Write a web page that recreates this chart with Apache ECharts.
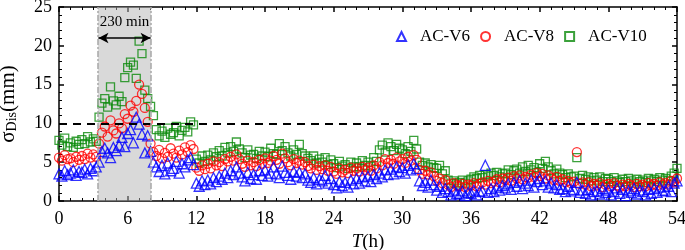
<!DOCTYPE html>
<html>
<head>
<meta charset="utf-8">
<script src="https://cdn.jsdelivr.net/npm/echarts@6/dist/echarts.min.js"></script>
<style>
html, body { margin: 0; padding: 0; background: #fff; }
#main { width: 685px; height: 250px; }
</style>
</head>
<body>
<div id="main"></div>
<script>
// sampled every 0.25 h, 0 .. 54 h
var step = 0.25;

var v6 = [
	3.5, 3.2, 3.9, 3.4, 3.6, 4.0, 3.3, 3.8, 3.7, 4.1, 3.5, 4.2, 3.9, 4.4, 5.0, 6.4,
	6.8, 6.2, 5.6, 6.9, 6.5, 7.2, 8.2, 7.0, 8.7, 9.2, 7.5, 10.8, 9.9, 8.6, 6.2, 8.4,
	6.4, 5.0, 4.4, 3.8, 4.6, 3.5, 4.9, 3.9, 4.2, 5.1, 3.6, 4.8, 4.4, 5.3, 5.6, 4.7,
	2.3, 1.9, 2.6, 2.1, 2.7, 2.2, 3.0, 2.5, 3.2, 2.8, 3.6, 3.0, 3.9, 3.4, 4.4, 3.6,
	3.1, 2.6, 3.7, 2.9, 3.4, 2.8, 3.9, 3.3, 4.0, 3.2, 3.6, 4.4, 3.5, 3.0, 4.5, 3.7,
	3.3, 2.8, 3.8, 3.2, 3.7, 3.0, 3.5, 2.7, 2.4, 3.0, 2.2, 2.8, 2.6, 3.3, 2.3, 2.9,
	2.1, 1.7, 2.5, 2.0, 2.4, 1.8, 2.7, 2.2, 2.9, 2.3, 3.1, 2.6, 3.2, 2.5, 3.4, 2.9,
	3.6, 3.1, 4.0, 3.4, 4.1, 3.5, 4.4, 3.8, 4.3, 3.6, 4.6, 4.0, 4.8, 4.2, 2.6, 2.0,
	2.4, 1.8, 2.7, 2.1, 1.4, 1.9, 1.1, 1.6, 1.2, 0.8, 1.4, 1.0, 0.9, 1.3, 0.7, 1.1,
	1.0, 1.4, 0.8, 1.2, 1.3, 4.6, 1.1, 1.6, 1.2, 1.8, 1.4, 2.0, 1.7, 2.2, 1.5, 2.4,
	1.9, 2.6, 1.6, 2.3, 2.0, 2.7, 1.8, 2.5, 2.9, 2.1, 2.6, 1.8, 2.3, 1.7, 2.1, 1.5,
	1.6, 1.2, 1.9, 1.3, 1.5, 2.4, 1.1, 1.4, 1.0, 1.5, 0.8, 1.2, 1.3, 0.9, 1.6, 1.1,
	1.4, 0.8, 1.2, 1.7, 1.0, 1.5, 0.7, 1.3, 1.1, 1.6, 0.9, 1.4, 1.2, 0.8, 1.5, 1.0,
	1.6, 1.1, 1.8, 1.3, 1.4, 1.9, 1.2, 2.3, 2.6
];
var v8 = [
	5.6, 5.2, 5.9, 5.4, 5.5, 5.0, 5.7, 5.3, 5.8, 5.4, 6.1, 5.6, 6.0, 5.7, 7.4, 8.8,
	9.6, 8.3, 10.4, 9.1, 8.7, 10.0, 9.4, 11.2, 10.6, 12.3, 11.5, 12.9, 15.0, 13.8, 12.0, 10.2,
	7.4, 6.3, 5.8, 6.6, 5.5, 6.2, 5.7, 6.8, 6.1, 5.6, 6.5, 6.0, 6.9, 6.3, 7.2, 6.7,
	4.3, 3.9, 4.6, 4.1, 4.8, 4.2, 5.1, 4.6, 5.0, 4.5, 5.4, 5.1, 5.7, 5.2, 6.0, 5.4,
	4.8, 4.4, 5.2, 4.6, 5.0, 4.5, 5.3, 4.8, 5.5, 4.9, 5.2, 5.8, 5.3, 4.8, 6.1, 5.5,
	5.0, 4.6, 5.4, 4.9, 5.2, 4.7, 5.0, 4.5, 4.2, 4.7, 4.0, 4.5, 4.1, 4.6, 3.9, 4.4,
	3.8, 3.5, 4.2, 3.7, 4.0, 3.6, 4.3, 3.9, 4.2, 3.8, 4.4, 4.0, 4.3, 3.9, 4.6, 4.2,
	5.0, 4.6, 5.4, 4.9, 5.3, 4.8, 5.6, 5.1, 5.4, 4.9, 5.7, 5.2, 5.9, 5.3, 4.0, 3.5,
	3.9, 3.4, 3.7, 3.2, 2.6, 2.9, 2.3, 2.7, 2.1, 1.8, 2.3, 2.0, 1.9, 2.2, 1.8, 2.1,
	2.0, 2.3, 1.9, 2.2, 2.4, 2.1, 2.6, 2.3, 2.5, 2.8, 2.4, 2.9, 2.7, 3.0, 2.6, 3.2,
	2.9, 3.3, 2.8, 3.1, 3.0, 3.4, 3.1, 3.6, 3.2, 3.5, 2.9, 3.3, 3.0, 2.7, 3.1, 2.6,
	2.8, 2.4, 2.6, 2.3, 2.5, 6.3, 2.2, 2.4, 2.1, 2.4, 1.9, 2.2, 2.0, 2.3, 1.8, 2.1,
	2.2, 1.9, 2.3, 2.0, 1.8, 2.1, 1.9, 2.2, 2.0, 1.8, 2.2, 1.9, 2.1, 1.9, 2.3, 2.0,
	2.2, 2.0, 2.4, 2.1, 2.3, 2.1, 2.6, 2.4, 2.9
];
var v10 = [
	7.8, 7.2, 8.1, 7.0, 7.5, 6.9, 7.7, 7.3, 7.9, 7.4, 8.3, 7.6, 8.0, 7.7, 10.8, 12.6,
	13.2, 12.1, 14.7, 12.9, 12.4, 13.5, 12.8, 15.9, 17.2, 17.9, 17.5, 15.8, 20.6, 19.0, 14.3, 13.2,
	12.2, 11.0, 9.2, 8.4, 9.0, 8.2, 9.4, 8.6, 8.8, 9.6, 8.4, 9.1, 9.5, 8.9, 10.2, 9.8,
	5.4, 4.9, 5.8, 5.1, 5.9, 5.3, 6.2, 5.7, 6.5, 5.8, 6.9, 6.2, 7.0, 6.4, 7.6, 6.7,
	6.2, 5.6, 6.6, 5.9, 6.0, 5.5, 6.4, 5.8, 6.3, 5.7, 6.8, 6.1, 6.0, 7.4, 6.5, 7.0,
	6.2, 5.8, 6.6, 6.0, 7.3, 6.1, 5.8, 5.5, 5.2, 5.8, 4.9, 5.4, 5.0, 5.6, 4.7, 5.3,
	4.8, 4.3, 5.1, 4.5, 4.7, 4.2, 5.0, 4.4, 4.9, 4.4, 5.2, 4.6, 5.0, 4.5, 5.6, 5.1,
	6.6, 7.2, 6.3, 7.5, 7.0, 6.5, 7.3, 6.8, 6.6, 6.1, 7.0, 6.4, 7.8, 6.7, 5.0, 4.6,
	4.9, 4.4, 4.7, 4.3, 4.2, 4.6, 3.5, 3.9, 2.7, 2.3, 2.6, 2.2, 2.4, 2.7, 2.3, 2.6,
	2.8, 3.1, 2.9, 3.3, 3.0, 3.4, 3.2, 3.6, 3.3, 3.7, 3.1, 3.5, 3.6, 4.0, 3.4, 3.9,
	4.1, 3.6, 4.4, 3.8, 4.6, 4.0, 4.3, 3.7, 4.8, 4.2, 5.1, 4.4, 3.9, 3.5, 4.1, 3.6,
	3.4, 3.0, 3.5, 3.1, 3.2, 5.6, 2.9, 3.3, 2.8, 3.1, 2.6, 3.0, 2.7, 3.1, 2.5, 2.9,
	2.8, 2.5, 3.0, 2.6, 2.4, 2.8, 2.5, 2.9, 2.6, 2.3, 2.8, 2.5, 2.7, 2.4, 2.9, 2.6,
	2.8, 2.5, 3.0, 2.7, 2.9, 2.6, 3.2, 3.6, 4.2
];
var xTicks = [0, 6, 12, 18, 24, 30, 36, 42, 48, 54];
var yTicks = [0, 5, 10, 15, 20, 25];
var shade = [3.4, 8.05]; // the 230 min window
var limit = 10;

var serif = 'Liberation Serif';

function toPairs(vals) {
	var out = [];
	for (var i = 0; i < vals.length; i++) {
		out.push([i * step, vals[i]]);
	}
	return out;
}

function axisX(pos) {
	return {
		type: 'value',
		position: pos,
		min: xTicks[0],
		max: xTicks[xTicks.length - 1],
		interval: 6,
		axisLine: { onZero: false, lineStyle: { color: '#000', width: 1.5 } },
		axisTick: { inside: true, length: 5, lineStyle: { color: '#000', width: 1.5 } },
		minorTick: { show: true, splitNumber: 6, length: 3, lineStyle: { color: '#000', width: 1 } },
		axisLabel: { show: pos == 'bottom', margin: 9, color: '#000', fontFamily: serif, fontSize: 18 },
		splitLine: { show: false }
	};
}

function axisY(pos) {
	return {
		type: 'value',
		position: pos,
		min: yTicks[0],
		max: yTicks[yTicks.length - 1],
		interval: 5,
		axisLine: { onZero: false, lineStyle: { color: '#000', width: 1.5 } },
		axisTick: { inside: true, length: 5, lineStyle: { color: '#000', width: 1.5 } },
		minorTick: { show: true, splitNumber: 5, length: 3, lineStyle: { color: '#000', width: 1 } },
		axisLabel: { show: pos == 'left', margin: 7, color: '#000', fontFamily: serif, fontSize: 18 },
		splitLine: { show: false }
	};
}

var xb = axisX('bottom');
xb.name = '{i|T}(h)';
xb.nameLocation = 'middle';
xb.nameGap = 25;
xb.nameTextStyle = { color: '#000', fontFamily: serif, fontSize: 19, rich: { i: { fontStyle: 'italic', fontFamily: serif, fontSize: 19 } } };

var yl = axisY('left');
yl.name = '{a|σ}{b|Dis}{a|(mm)}';
yl.nameLocation = 'middle';
yl.nameGap = 40;
yl.nameTextStyle = {
	color: '#000',
	rich: {
		a: { fontFamily: serif, fontSize: 21, color: '#000', lineHeight: 22 },
		b: { fontFamily: serif, fontSize: 14, color: '#000', lineHeight: 14, padding: [10, 0, 0, 0], verticalAlign: 'bottom' }
	}
};

function scatter(name, vals, symbol, size, color) {
	return {
		name: name,
		type: 'scatter',
		data: toPairs(vals),
		symbol: symbol,
		symbolSize: size,
		itemStyle: { color: 'rgba(255,255,255,0)', borderColor: color, borderWidth: 1.3 },
		emphasis: { disabled: true },
		z: 2
	};
}

var s10 = scatter('AC-V10', v10, 'rect', 8, '#0a8a0a');
s10.markLine = {
	silent: true,
	symbol: 'none',
	label: { show: false },
	lineStyle: { color: '#000', width: 2, type: [8, 6] },
	data: [{ yAxis: limit }]
};

var option = {
	animation: false,
	backgroundColor: '#fff',
	grid: { left: 59, right: 8, top: 7, bottom: 49, containLabel: false, outerBoundsMode: 'none' },
	legend: {
		left: 391,
		top: 23,
		itemWidth: 9,
		itemHeight: 9,
		itemGap: 10,
		data: ['AC-V6', 'AC-V8', 'AC-V10'],
		textStyle: { color: '#000', fontFamily: serif, fontSize: 17, padding: [0, 0, 0, 9] }
	},
	xAxis: [xb, axisX('top')],
	yAxis: [yl, axisY('right')],
	series: [
		s10,
		scatter('AC-V8', v8, 'circle', 9, '#ff0000'),
		scatter('AC-V6', v6, 'triangle', 10, '#0000ff'),
		{
			type: 'scatter',
			data: [],
			silent: true,
			z: 5,
			markArea: {
				silent: true,
				itemStyle: { color: 'rgba(180,180,180,0.5)', borderWidth: 0 },
				data: [[{ coord: [shade[0], 0] }, { coord: [shade[1], 25] }]]
			},
			markLine: {
				silent: true,
				symbol: 'none',
				label: { show: false },
				lineStyle: { color: '#a8a8a8', width: 1.5, type: [6, 2, 2, 2] },
				data: [{ xAxis: shade[0] }, { xAxis: shade[1] }]
			}
		},
		{
			type: 'scatter',
			data: [],
			silent: true,
			z: 6,
			markLine: {
				silent: true,
				symbol: ['arrow', 'arrow'],
				symbolSize: [8, 10],
				label: { show: false },
				lineStyle: { color: '#000', width: 1.5, type: 'solid' },
				data: [[{ coord: [shade[0] + 0.05, 21] }, { coord: [shade[1] - 0.05, 21] }]]
			},
			markPoint: {
				silent: true,
				symbol: 'rect',
				symbolSize: 1,
				itemStyle: { color: 'rgba(0,0,0,0)' },
				label: { show: true, position: 'inside', formatter: '230 min', color: '#000', fontFamily: serif, fontSize: 15 },
				data: [{ coord: [(shade[0] + shade[1]) / 2, 23.1] }]
			}
		}
	]
};

var myChart = echarts.init(document.getElementById('main'));
myChart.setOption(option);
</script>
</body>
</html>
